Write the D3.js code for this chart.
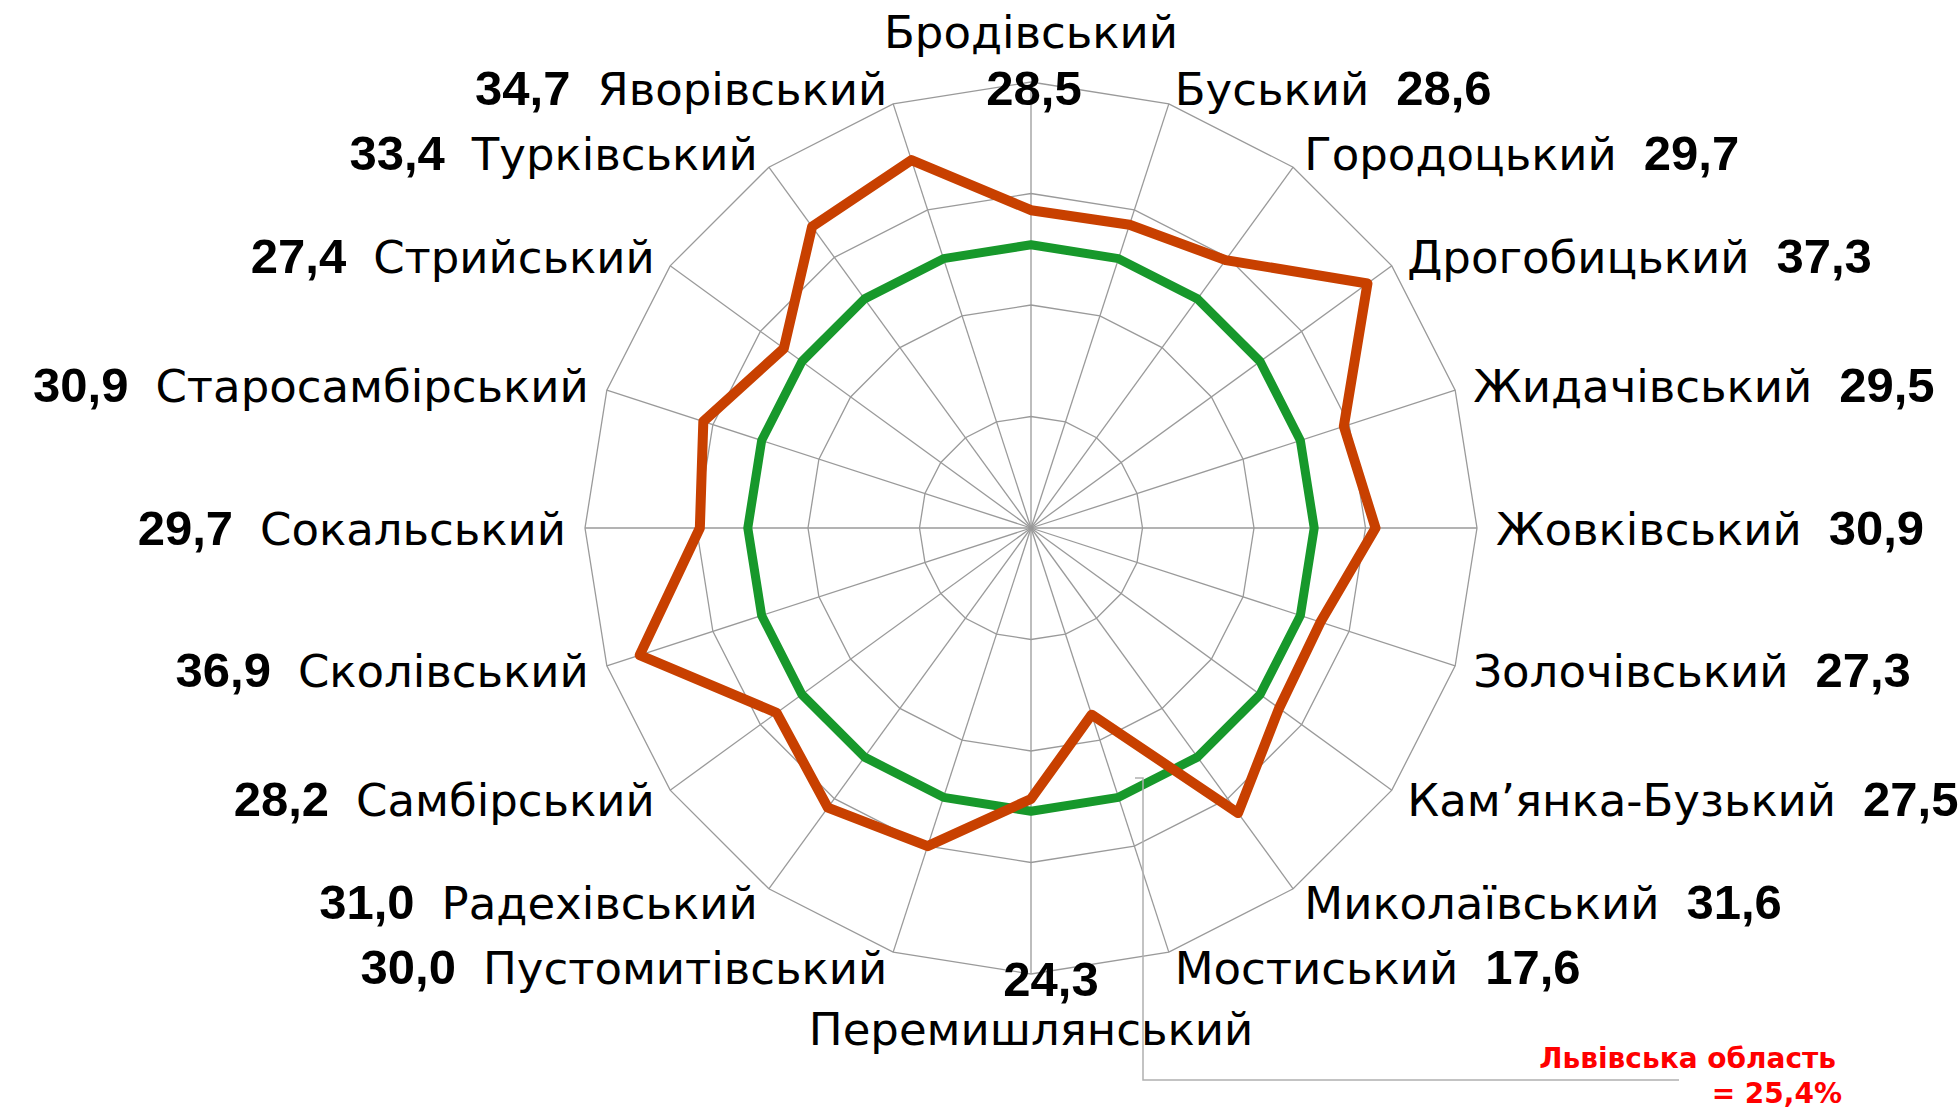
<!DOCTYPE html>
<html>
<head>
<meta charset="utf-8">
<script src="https://cdn.jsdelivr.net/npm/d3@7"></script>
<style>
  html, body { margin: 0; padding: 0; background: #fff; }
  svg { display: block; }
  .cat { font-family: "DejaVu Sans", sans-serif; font-size: 45px; fill: #000; }
  .val { font-family: "Liberation Sans", Arial, sans-serif; font-weight: bold; font-size: 49px; fill: #000; }
  .note { font-family: "DejaVu Sans", sans-serif; font-weight: bold; font-size: 28px; fill: #ff0000; }
</style>
</head>
<body>
<script>
// Districts, clockwise from the top
const categories = ["Бродівський", "Буський", "Городоцький", "Дрогобицький", "Жидачівський",
  "Жовківський", "Золочівський", "Кам’янка-Бузький", "Миколаївський", "Мостиський",
  "Перемишлянський", "Пустомитівський", "Радехівський", "Самбірський", "Сколівський",
  "Сокальський", "Старосамбірський", "Стрийський", "Турківський", "Яворівський"];
const districtValues = [28.5, 28.6, 29.7, 37.3, 29.5, 30.9, 27.3, 27.5, 31.6, 17.6,
  24.3, 30.0, 31.0, 28.2, 36.9, 29.7, 30.9, 27.4, 33.4, 34.7];
const oblastValue = 25.4;
const oblastLabel = ["Львівська область", "= 25,4%"];
const ringTicks = [10, 20, 30, 40];

const width = 1960, height = 1111;
const cx = 1031, cy = 528, R = 446;
const n = categories.length;
const step = 2 * Math.PI / n;

const svg = d3.select("body").append("svg")
  .attr("width", width)
  .attr("height", height);

svg.append("rect").attr("width", width).attr("height", height).attr("fill", "#fff");

const r = d3.scaleLinear().domain([0, d3.max(ringTicks)]).range([0, R]);
const fmt = v => d3.format(".1f")(v).replace(".", ",");

const g = svg.append("g").attr("transform", "translate(" + cx + "," + cy + ")");

// Gridlines: polygon rings and spokes
const ring = d3.lineRadial()
  .angle((d, i) => i * step)
  .radius(d => r(d))
  .curve(d3.curveLinearClosed);

g.selectAll("path.ring")
  .data(ringTicks)
  .enter().append("path")
  .attr("class", "ring")
  .attr("d", t => ring(categories.map(() => t)))
  .attr("fill", "none")
  .attr("stroke", "#9a9a9a")
  .attr("stroke-width", 1.3);

g.selectAll("line.spoke")
  .data(categories)
  .enter().append("line")
  .attr("class", "spoke")
  .attr("x1", 0).attr("y1", 0)
  .attr("x2", (d, i) => r(40) * Math.sin(i * step))
  .attr("y2", (d, i) => -r(40) * Math.cos(i * step))
  .attr("stroke", "#9a9a9a")
  .attr("stroke-width", 1.3);

// Series lines
g.append("path")
  .attr("d", ring(categories.map(() => oblastValue)))
  .attr("fill", "none")
  .attr("stroke", "#17982b")
  .attr("stroke-width", 9)
  .attr("stroke-linejoin", "round");

g.append("path")
  .attr("d", ring(districtValues))
  .attr("fill", "none")
  .attr("stroke", "#c84000")
  .attr("stroke-width", 10)
  .attr("stroke-linejoin", "round");

// Category and value labels
const pad = 19, cap = 33, gap = 27;
categories.forEach((name, i) => {
  const a = i * step, s = Math.sin(a), c = Math.cos(a);
  const ex = cx + R * s, ey = cy - R * c;
  if (Math.abs(s) < 0.1) {
    const top = c > 0;
    svg.append("text").attr("class", "cat")
      .attr("x", ex).attr("y", top ? ey - 34 : ey + 71)
      .attr("text-anchor", "middle").text(name);
    svg.append("text").attr("class", "val")
      .attr("x", top ? ex + 3 : ex + 20).attr("y", top ? ey + 23 : ey + 22)
      .attr("text-anchor", "middle").text(fmt(districtValues[i]));
    return;
  }
  const right = s > 0;
  const x = ex + pad * s;
  const y = ey + cap * (1 - c) / 2;
  const t = svg.append("text").attr("class", "cat")
    .attr("x", x).attr("y", y)
    .attr("text-anchor", right ? "start" : "end").text(name);
  const w = t.node().getComputedTextLength();
  svg.append("text").attr("class", "val")
    .attr("x", right ? x + w + gap : x - w - gap).attr("y", y)
    .attr("text-anchor", right ? "start" : "end")
    .text(fmt(districtValues[i]));
});

// Leader line and note for the oblast average
svg.append("path")
  .attr("d", "M1135,778 H1143 V1080 H1679")
  .attr("fill", "none")
  .attr("stroke", "#b0b0b0")
  .attr("stroke-width", 1.5);

svg.append("text").attr("class", "note")
  .attr("x", 1836).attr("y", 1068).attr("text-anchor", "end").text(oblastLabel[0]);
svg.append("text").attr("class", "note")
  .attr("x", 1842).attr("y", 1103).attr("text-anchor", "end").text(oblastLabel[1]);
</script>
</body>
</html>
